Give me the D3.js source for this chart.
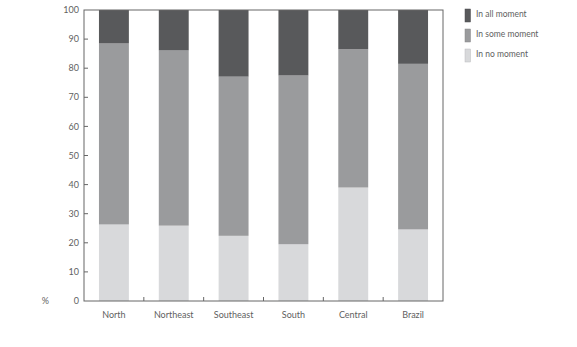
<!DOCTYPE html>
<html>
<head>
<meta charset="utf-8">
<script src="https://cdn.jsdelivr.net/npm/d3@7"></script>
<style>
  body { margin: 0; background: #fff; }
  text { font-family: Lato, "Open Sans", sans-serif; fill: #5f5f5f; }
</style>
</head>
<body>
<svg id="chart" width="577" height="347"></svg>
<script>
const regions = ["North", "Northeast", "Southeast", "South", "Central", "Brazil"]
const noMoment = [26.3, 25.9, 22.4, 19.5, 39.0, 24.6]
const someMoment = [62.2, 60.2, 54.7, 58.0, 47.5, 56.9]
const allMoment = [11.5, 13.9, 22.9, 22.5, 13.5, 18.5]
const yTicks = [0, 10, 20, 30, 40, 50, 60, 70, 80, 90, 100]

const seriesKeys = ["none", "some", "all"]
const seriesLabels = { all: "In all moment", some: "In some moment", none: "In no moment" }
const colors = { all: "#58595b", some: "#9a9b9d", none: "#d8d9db" }

const rows = regions.map((r, i) => ({ region: r, none: noMoment[i], some: someMoment[i], all: allMoment[i] }))

const svg = d3.select("#chart")
const margin = { left: 84, top: 10, right: 134, bottom: 46 }
const width = 577 - margin.left - margin.right
const height = 347 - margin.top - margin.bottom

const g = svg.append("g").attr("transform", `translate(${margin.left},${margin.top})`)

const x = d3.scaleBand().domain(regions).range([0, width]).paddingInner(0.5).paddingOuter(0.25)
const y = d3.scaleLinear().domain([0, 100]).range([height, 0])

const stack = d3.stack().keys(seriesKeys)(rows)

g.selectAll("g.layer")
    .data(stack)
    .join("g")
    .attr("class", "layer")
    .attr("fill", d => colors[d.key])
    .selectAll("rect")
    .data(d => d)
    .join("rect")
    .attr("x", d => x(d.data.region))
    .attr("width", x.bandwidth())
    .attr("y", d => y(Math.min(d[1], 100)))
    .attr("height", d => y(d[0]) - y(Math.min(d[1], 100)))

// frame
g.append("rect")
    .attr("width", width).attr("height", height)
    .attr("fill", "none").attr("stroke", "#666").attr("stroke-width", 1)

// y ticks (inward) and labels
g.selectAll("line.ytick")
    .data(yTicks.filter(t => t > 0 && t < 100))
    .join("line")
    .attr("class", "ytick")
    .attr("x1", 0).attr("x2", 4)
    .attr("y1", d => y(d)).attr("y2", d => y(d))
    .attr("stroke", "#666")

g.selectAll("text.ylab")
    .data(yTicks)
    .join("text")
    .attr("class", "ylab")
    .attr("x", -5)
    .attr("y", d => y(d))
    .attr("dy", "0.35em")
    .attr("text-anchor", "end")
    .style("font-size", "9px")
    .text(d => d)

g.append("text")
    .attr("x", -35).attr("y", height).attr("dy", "0.35em")
    .attr("text-anchor", "end")
    .style("font-size", "9px")
    .text("%")

// x ticks between bands, pointing up
const step = x.step()
g.selectAll("line.xtick")
    .data(regions.slice(1))
    .join("line")
    .attr("class", "xtick")
    .attr("x1", d => x(d) - step * 0.25).attr("x2", d => x(d) - step * 0.25)
    .attr("y1", height).attr("y2", height - 4)
    .attr("stroke", "#666")

g.selectAll("text.xlab")
    .data(regions)
    .join("text")
    .attr("class", "xlab")
    .attr("x", d => x(d) + x.bandwidth() / 2)
    .attr("y", height + 17)
    .attr("text-anchor", "middle")
    .style("font-size", "9px")
    .text(d => d)

// legend
const legend = svg.append("g").attr("transform", "translate(465,9)")
const legendKeys = ["all", "some", "none"]
const items = legend.selectAll("g")
    .data(legendKeys)
    .join("g")
    .attr("transform", (d, i) => `translate(0,${i * 20})`)

items.append("rect")
    .attr("width", 5.5).attr("height", 13)
    .attr("fill", d => colors[d])
    .attr("stroke", d => d3.color(colors[d]).darker(0.4))
    .attr("stroke-width", 0.5)

items.append("text")
    .attr("x", 11).attr("y", 5.5).attr("dy", "0.35em")
    .style("font-size", "8.5px")
    .text(d => seriesLabels[d])
</script>
</body>
</html>
